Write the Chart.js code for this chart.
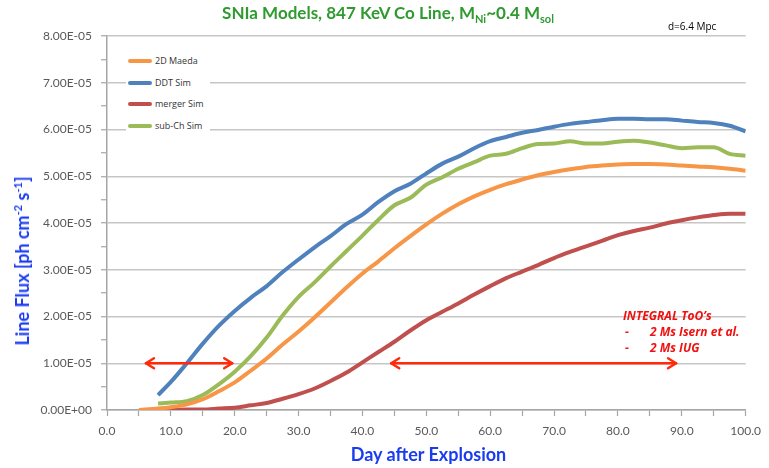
<!DOCTYPE html>
<html>
<head>
<meta charset="utf-8">
<script src="https://cdn.jsdelivr.net/npm/chart.js@4.4.1/dist/chart.umd.min.js"></script>
<style>
  html, body { margin: 0; padding: 0; background: #ffffff; }
  #wrap { position: relative; width: 769px; height: 468px; overflow: hidden; }
  #c { position: absolute; left: 0; top: 0; }
  .ov { position: absolute; white-space: nowrap; }
  #title { left: 0; width: 776px; top: 2px; text-align: center; font: bold 17px Lato, sans-serif; color: #2f9a2f; }
  #title sub { font-size: 11px; vertical-align: -4px; line-height: 0; }
  #dist { left: 668px; top: 19px; font: 10px "Open Sans", sans-serif; color: #000; }
  #ytitle { left: 22px; top: 261px; transform: translate(-50%, -50%) rotate(-90deg); font: bold 18px Lato, sans-serif; color: #1a3cf0; }
  #ytitle sup { font-size: 11px; vertical-align: 7px; line-height: 0; }
  #xtitle { left: 107px; width: 643px; top: 443px; text-align: center; font: bold 18px Lato, sans-serif; color: #1a3cf0; }
  #legend { left: 126px; top: 49px; width: 84px; height: 86px; background: #fff; }
  .li { position: absolute; left: 2px; height: 12px; font: 9px "Open Sans", sans-serif; color: #333; }
  .li span.sw { position: absolute; left: 0; top: 5px; width: 24px; height: 4px; border-radius: 2px; }
  .li span.tx { position: absolute; left: 27px; top: 0; }
  #integral { left: 623px; top: 308px; font: italic bold 12px "Open Sans", sans-serif; color: #f01010; line-height: 16px; }
  #integral .d { display: inline-block; width: 25px; padding-left: 2px; }
</style>
</head>
<body>
<div id="wrap">
  <canvas id="c" width="769" height="468"></canvas>
  <div class="ov" id="title">SNIa Models, 847 KeV Co Line, M<sub>Ni</sub>~0.4 M<sub>sol</sub></div>
  <div class="ov" id="dist">d=6.4 Mpc</div>
  <div class="ov" id="ytitle">Line Flux [ph cm<sup>-2</sup> s<sup>-1</sup>]</div>
  <div class="ov" id="xtitle">Day after Explosion</div>
  <div class="ov" id="legend"></div>
  <div class="ov" id="integral">INTEGRAL ToO’s<br><span class="d">-</span>2 Ms Isern et al.<br><span class="d">-</span>2 Ms IUG</div>
</div>
<script>
// ---- data (flux in ph cm^-2 s^-1) ----
const days = [5, 8, 10, 12.5, 15, 17.5, 20, 22.5, 25, 27.5, 30, 32.5, 35, 37.5, 40, 42.5, 45, 47.5, 50, 52.5, 55, 57.5, 60, 62.5, 65, 67.5, 70, 72.5, 75, 77.5, 80, 82.5, 85, 87.5, 90, 92.5, 95, 97.5, 100];

const maeda2D = [0.0e-5, 0.03e-5, 0.06e-5, 0.12e-5, 0.23e-5, 0.40e-5, 0.59e-5, 0.84e-5, 1.10e-5, 1.40e-5, 1.68e-5, 1.98e-5, 2.30e-5, 2.62e-5, 2.92e-5, 3.18e-5, 3.46e-5, 3.72e-5, 3.97e-5, 4.20e-5, 4.40e-5, 4.57e-5, 4.71e-5, 4.83e-5, 4.93e-5, 5.02e-5, 5.09e-5, 5.15e-5, 5.20e-5, 5.23e-5, 5.25e-5, 5.26e-5, 5.26e-5, 5.25e-5, 5.23e-5, 5.21e-5, 5.19e-5, 5.16e-5, 5.12e-5];

const ddtSim = [null, 0.32e-5, 0.60e-5, 1.00e-5, 1.42e-5, 1.80e-5, 2.12e-5, 2.40e-5, 2.65e-5, 2.95e-5, 3.22e-5, 3.48e-5, 3.72e-5, 3.98e-5, 4.18e-5, 4.45e-5, 4.68e-5, 4.84e-5, 5.06e-5, 5.27e-5, 5.42e-5, 5.60e-5, 5.75e-5, 5.84e-5, 5.93e-5, 5.99e-5, 6.06e-5, 6.12e-5, 6.16e-5, 6.20e-5, 6.23e-5, 6.23e-5, 6.22e-5, 6.22e-5, 6.19e-5, 6.16e-5, 6.14e-5, 6.08e-5, 5.96e-5];

const mergerSim = [null, 0.0e-5, 0.0e-5, 0.01e-5, 0.01e-5, 0.03e-5, 0.05e-5, 0.10e-5, 0.15e-5, 0.24e-5, 0.34e-5, 0.46e-5, 0.62e-5, 0.80e-5, 1.02e-5, 1.24e-5, 1.46e-5, 1.70e-5, 1.92e-5, 2.10e-5, 2.28e-5, 2.47e-5, 2.65e-5, 2.82e-5, 2.96e-5, 3.10e-5, 3.25e-5, 3.38e-5, 3.50e-5, 3.62e-5, 3.74e-5, 3.83e-5, 3.90e-5, 3.99e-5, 4.06e-5, 4.12e-5, 4.17e-5, 4.20e-5, 4.20e-5];

const subChSim = [null, 0.14e-5, 0.16e-5, 0.19e-5, 0.32e-5, 0.55e-5, 0.82e-5, 1.15e-5, 1.55e-5, 2.02e-5, 2.42e-5, 2.73e-5, 3.07e-5, 3.40e-5, 3.73e-5, 4.07e-5, 4.38e-5, 4.54e-5, 4.82e-5, 4.98e-5, 5.16e-5, 5.30e-5, 5.44e-5, 5.48e-5, 5.60e-5, 5.69e-5, 5.70e-5, 5.75e-5, 5.70e-5, 5.70e-5, 5.74e-5, 5.76e-5, 5.72e-5, 5.66e-5, 5.60e-5, 5.62e-5, 5.62e-5, 5.48e-5, 5.44e-5];

const seriesNames = ['2D Maeda', 'DDT Sim', 'merger Sim', 'sub-Ch Sim'];
const seriesColors = ['#f79646', '#4f81bd', '#c0504d', '#9bbb59'];
const seriesValues = [maeda2D, ddtSim, mergerSim, subChSim];

// INTEGRAL observation windows (days) drawn at flux level 1e-5
const arrowStarts = [6.1, 44.5];
const arrowEnds = [19.6, 89.1];
const arrowLevel = 1.0e-5;

const xMin = 0, xMax = 100, xStep = 5;
const yMin = 0, yMax = 8e-5, yStep = 0.5e-5;

function fmtExp(v) {
  const s = Math.abs(v) < 1e-12 ? (0).toExponential(2) : v.toExponential(2);
  const [m, e] = s.split('e');
  const sign = e[0] === '-' ? '-' : '+';
  const digits = e.replace(/[+-]/, '').padStart(2, '0');
  return m + 'E' + sign + digits;
}

// legend
const leg = document.getElementById('legend');
seriesNames.forEach((n, i) => {
  const d = document.createElement('div');
  d.className = 'li';
  d.style.top = (5 + i * 21.5) + 'px';
  d.style.width = '80px';
  d.innerHTML = '<span class="sw" style="background:' + seriesColors[i] + '"></span><span class="tx">' + n + '</span>';
  leg.appendChild(d);
});

const arrowPlugin = {
  id: 'arrows',
  afterDatasetsDraw(chart) {
    const ctx = chart.ctx, xs = chart.scales.x, ys = chart.scales.y;
    const y = ys.getPixelForValue(arrowLevel);
    ctx.save();
    ctx.strokeStyle = '#ff2a0a';
    ctx.lineWidth = 2.5;
    ctx.lineCap = 'round';
    ctx.lineJoin = 'round';
    arrowStarts.forEach((s, i) => {
      const x1 = xs.getPixelForValue(s), x2 = xs.getPixelForValue(arrowEnds[i]);
      ctx.beginPath();
      ctx.moveTo(x1, y); ctx.lineTo(x2, y);
      ctx.stroke();
      ctx.beginPath();
      ctx.moveTo(x1 + 8, y - 5); ctx.lineTo(x1, y); ctx.lineTo(x1 + 8, y + 5);
      ctx.stroke();
      ctx.beginPath();
      ctx.moveTo(x2 - 8, y - 5); ctx.lineTo(x2, y); ctx.lineTo(x2 - 8, y + 5);
      ctx.stroke();
    });
    ctx.restore();
  }
};

Chart.defaults.font.family = 'Lato, sans-serif';

new Chart(document.getElementById('c'), {
  type: 'line',
  data: {
    datasets: seriesNames.map((n, i) => ({
      label: n,
      data: days.map((d, j) => ({ x: d, y: seriesValues[i][j] })),
      borderColor: seriesColors[i],
      backgroundColor: seriesColors[i],
      borderWidth: 4,
      pointRadius: 0,
      tension: 0.4,
      cubicInterpolationMode: 'monotone',
      fill: false,
      spanGaps: false
    }))
  },
  options: {
    responsive: false,
    animation: false,
    layout: { padding: { left: 0, right: 14, top: 36, bottom: 0 } },
    plugins: { legend: { display: false }, title: { display: false }, tooltip: { enabled: false } },
    scales: {
      x: {
        type: 'linear', min: xMin, max: xMax,
        afterFit(scale) { scale.height = 58; },
        border: { color: '#a6a6a6', width: 1.5 },
        grid: { drawOnChartArea: false, drawTicks: true, tickLength: 6, tickColor: '#a6a6a6', tickWidth: 1.2 },
        ticks: {
          stepSize: xStep, autoSkip: false, maxRotation: 0, padding: 8,
          color: '#595959', font: { size: 12 },
          callback: (v) => (Math.round(v) % 10 === 0 ? v.toFixed(1) : '')
        }
      },
      y: {
        min: yMin, max: yMax,
        afterFit(scale) { scale.width = 107; },
        border: { color: '#a6a6a6', width: 1.5 },
        grid: {
          color: (c) => (c.index % 2 === 0 ? '#c6c6c6' : 'rgba(0,0,0,0)'),
          lineWidth: 1.5,
          drawTicks: true, tickLength: 6, tickColor: '#a6a6a6', tickWidth: 1.2
        },
        ticks: {
          stepSize: yStep, autoSkip: false, padding: 9,
          color: '#595959', font: { size: 12 },
          callback: function (v, idx) { return idx % 2 === 0 ? fmtExp(v) : ''; }
        }
      }
    }
  },
  plugins: [arrowPlugin]
});
</script>
</body>
</html>
